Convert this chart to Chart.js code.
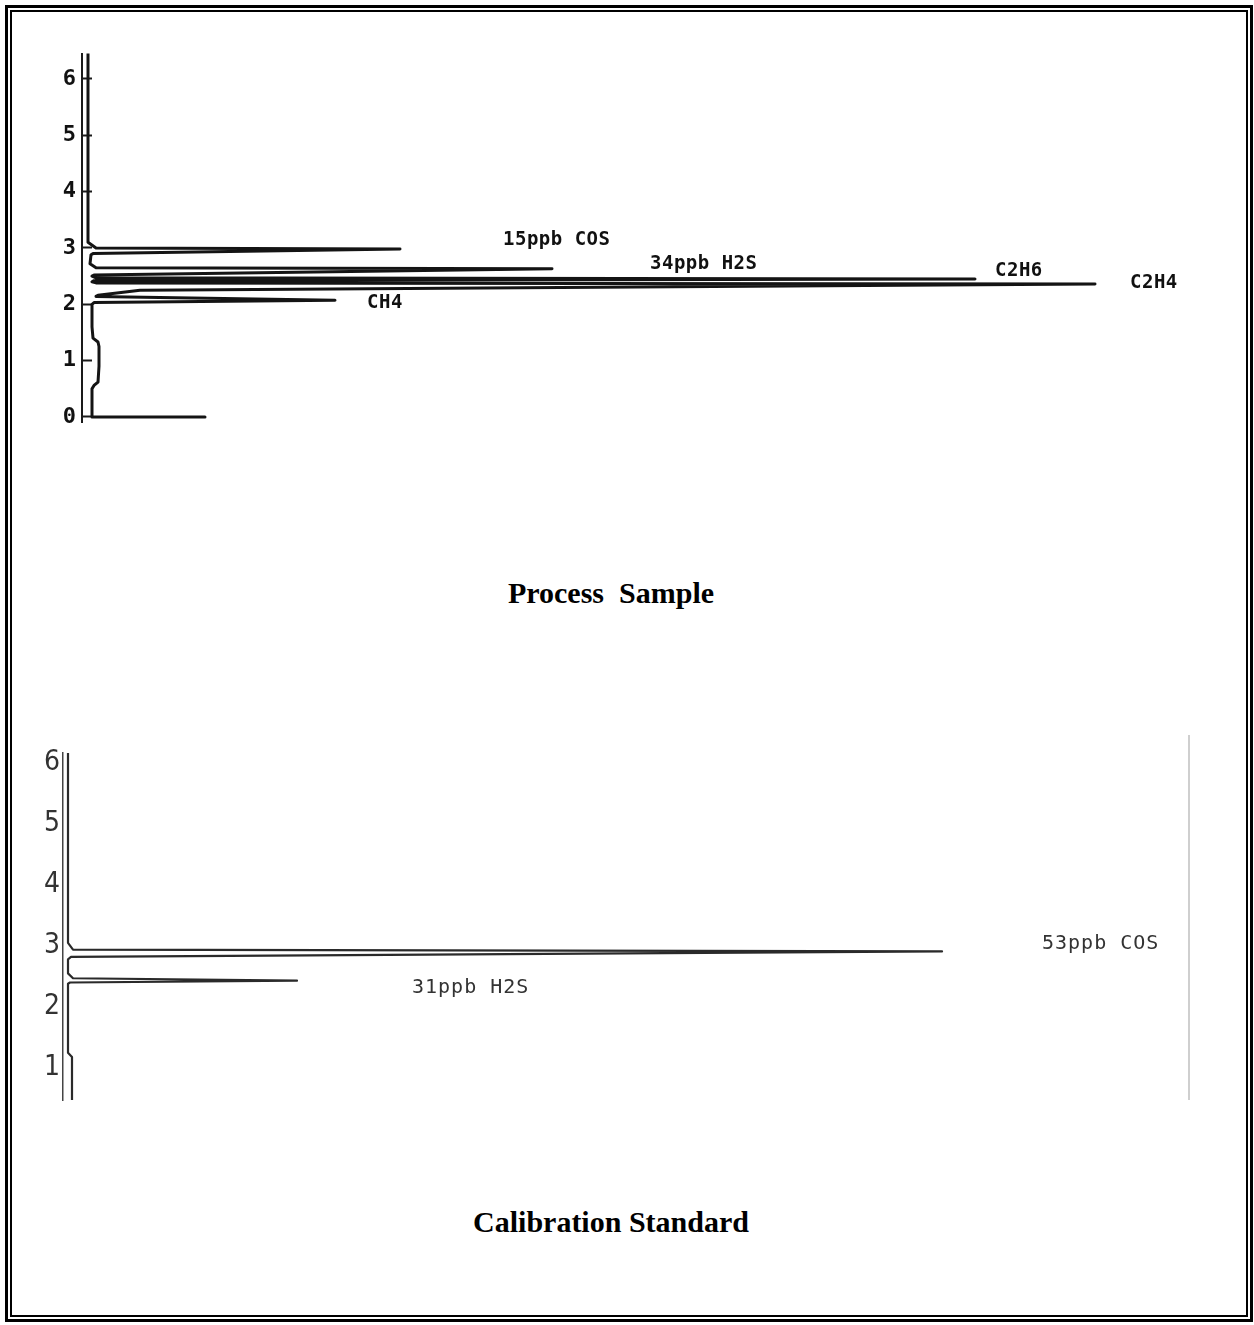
<!DOCTYPE html>
<html>
<head>
<meta charset="utf-8">
<script src="https://cdn.jsdelivr.net/npm/chart.js@4.4.1/dist/chart.umd.min.js"></script>
<style>
    body { margin: 0; background: #fff; width: 1254px; height: 1325px; position: relative; overflow: hidden; }
    .frame { position: absolute; box-sizing: border-box; border: solid #000; }
    #frame_outer { left: 5px; top: 5px; width: 1248px; height: 1317px; border-width: 3px; }
    #frame_inner { left: 10px; top: 10px; width: 1238px; height: 1307px; border-width: 2px; }
    canvas { position: absolute; }
    .caption { position: absolute; left: 0; width: 1222px; text-align: center; font: bold 30px/30px 'Liberation Serif', 'Times New Roman', serif; color: #000; white-space: pre; }
    #scan_edge { position: absolute; left: 1188px; top: 735px; width: 2px; height: 365px; background: #cfcfcf; }
</style>
</head>
<body>
<div class="frame" id="frame_outer"></div>
<div class="frame" id="frame_inner"></div>

<canvas id="process_sample" width="1170" height="410" style="left:42px; top:30px;"></canvas>
<div class="caption" style="top:578px;">Process  Sample</div>

<div id="scan_edge"></div>
<canvas id="calibration_standard" width="1171" height="400" style="left:18px; top:725px;"></canvas>
<div class="caption" style="top:1207px;">Calibration Standard</div>

<script>
// time axis ticks (minutes)
const timeTicks = [0, 1, 2, 3, 4, 5, 6];

// Process sample trace, time runs bottom -> top, signal runs to the right
const processTime = [0, 0, 0.50, 0.56, 0.62, 0.90, 1.25, 1.33, 1.40, 1.60, 2.00, 2.03, 2.07, 2.14, 2.16, 2.25, 2.36, 2.38, 2.40, 2.42, 2.45, 2.47, 2.50, 2.52, 2.63, 2.65, 2.72, 2.88, 2.90, 2.98, 3.00, 3.10, 6.45];
const processSignal = [123, 10, 10, 12, 16, 17, 17, 16, 11, 10, 10, 12, 253, 14, 16, 58, 1013, 14, 10, 12, 893, 14, 10, 12, 470, 14, 8, 9, 11, 318, 14, 6, 6];
const processLabels = ['15ppb COS', '34ppb H2S', 'C2H6', 'C2H4', 'CH4'];
const processLabelSignal = [421, 568, 913, 1048, 285];
const processLabelTime = [3.14, 2.72, 2.59, 2.38, 2.02];

// Calibration standard trace
const calTime = [0.475, 1.18, 1.25, 2.38, 2.40, 2.43, 2.47, 2.55, 2.78, 2.82, 2.91, 2.94, 3.05, 6.16];
const calSignal = [9, 9, 5, 5, 7, 234, 10, 5, 5, 8, 879, 10, 5, 5];
const calLabels = ['53ppb COS', '31ppb H2S'];
const calLabelSignal = [979, 349];
const calLabelTime = [3.03, 2.31];

const peakLabels = {
    id: 'peakLabels',
    afterDatasetsDraw(chart, args, opts) {
        const ctx = chart.ctx;
        const x = chart.scales.x;
        const y = chart.scales.y;
        ctx.save();
        ctx.font = opts.font;
        ctx.fillStyle = opts.color;
        ctx.textBaseline = 'middle';
        ctx.textAlign = 'left';
        if ('letterSpacing' in ctx) ctx.letterSpacing = opts.spacing;
        opts.texts.forEach((text, i) => {
            ctx.fillText(text, x.getPixelForValue(opts.signal[i]), y.getPixelForValue(opts.time[i]));
        });
        ctx.restore();
    }
};

function traceChart(canvasId, times, signals, cfg) {
    let canvas = document.querySelector(`#${canvasId}`);
    return new Chart(canvas, {
        type: 'scatter',
        data: {
            datasets: [{
                data: times.map((t, i) => ({ x: signals[i], y: t })),
                showLine: true,
                borderColor: cfg.lineColor,
                borderWidth: cfg.lineWidth,
                borderJoinStyle: 'round',
                borderCapStyle: 'round',
                pointRadius: 0,
                tension: 0
            }]
        },
        plugins: [peakLabels],
        options: {
            responsive: false,
            animation: false,
            devicePixelRatio: 1,
            layout: { padding: cfg.padding },
            plugins: {
                legend: { display: false },
                tooltip: { enabled: false },
                peakLabels: {
                    texts: cfg.texts,
                    signal: cfg.textSignal,
                    time: cfg.textTime,
                    font: cfg.textFont,
                    color: cfg.textColor,
                    spacing: cfg.textSpacing
                }
            },
            scales: {
                x: {
                    display: false,
                    min: 0,
                    max: cfg.xMax
                },
                y: {
                    min: cfg.yMin,
                    max: cfg.yMax,
                    afterBuildTicks: (scale) => {
                        scale.ticks = cfg.ticks.map(v => ({ value: v }));
                    },
                    afterFit: (scale) => {
                        scale.width = cfg.axisWidth;
                        scale.paddingTop = 0;
                        scale.paddingBottom = 0;
                    },
                    border: { display: true, color: cfg.axisColor, width: cfg.axisLineWidth },
                    grid: {
                        drawOnChartArea: false,
                        drawTicks: cfg.tickLength !== 0,
                        tickLength: cfg.tickLength,
                        tickColor: cfg.axisColor,
                        tickWidth: 2
                    },
                    ticks: {
                        padding: cfg.tickPadding,
                        color: cfg.tickColor,
                        font: cfg.tickFont,
                        callback: (v) => String(v)
                    }
                }
            }
        }
    });
}

traceChart('process_sample', processTime, processSignal, {
    padding: { left: 0, right: 0, top: 23.6, bottom: 17.4 },
    xMax: 1130,
    yMin: -0.1,
    yMax: 6.45,
    ticks: timeTicks,
    axisWidth: 40,
    axisColor: '#1a1a1a',
    axisLineWidth: 2,
    tickLength: -10,
    tickPadding: 16,
    tickColor: '#111',
    tickFont: { family: "'DejaVu Sans Mono', monospace", size: 22, weight: 'bold' },
    lineColor: '#141414',
    lineWidth: 3,
    texts: processLabels,
    textSignal: processLabelSignal,
    textTime: processLabelTime,
    textFont: "bold 19px 'DejaVu Sans Mono', monospace",
    textColor: '#111',
    textSpacing: '0.5px'
});

traceChart('calibration_standard', calTime, calSignal, {
    padding: { left: 0, right: 0, top: 28, bottom: 25 },
    xMax: 1126,
    yMin: 0.475,
    yMax: 6.16,
    ticks: timeTicks.slice(1),
    axisWidth: 45,
    axisColor: '#444',
    axisLineWidth: 1.5,
    tickLength: 0,
    tickPadding: 3,
    tickColor: '#333',
    tickFont: { family: "'Liberation Sans Narrow', 'DejaVu Sans Condensed', 'DejaVu Sans Mono', sans-serif", size: 28 },
    lineColor: '#2a2a2a',
    lineWidth: 2.2,
    texts: calLabels,
    textSignal: calLabelSignal,
    textTime: calLabelTime,
    textFont: "20px 'DejaVu Sans Mono', monospace",
    textColor: '#333',
    textSpacing: '1px'
});
</script>
</body>
</html>
